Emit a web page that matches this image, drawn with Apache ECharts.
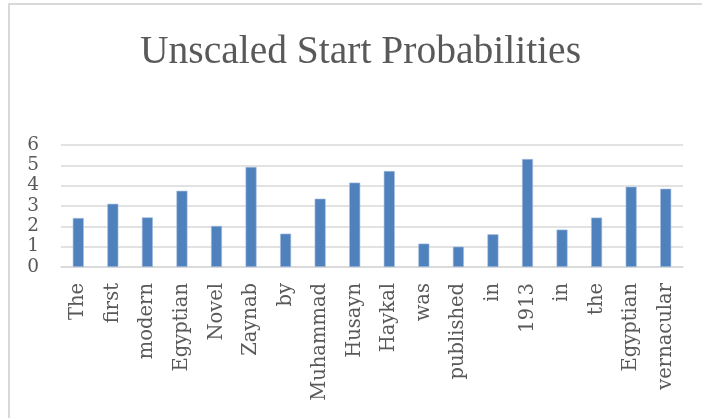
<!DOCTYPE html>
<html>
<head>
<meta charset="utf-8">
<script src="https://cdn.jsdelivr.net/npm/echarts@6/dist/echarts.min.js"></script>
<style>
  html, body { margin: 0; padding: 0; background: #fff; }
  #chart { width: 702px; height: 418px; }
</style>
</head>
<body>
<div id="chart"></div>
<script>
// Words of the sentence and their unscaled start scores
const words = ['The', 'first', 'modern', 'Egyptian', 'Novel', 'Zaynab', 'by', 'Muhammad',
  'Husayn', 'Haykal', 'was', 'published', 'in', '1913', 'in', 'the', 'Egyptian', 'vernacular'];
const startScores = [2.41, 3.11, 2.44, 3.75, 2.02, 4.92, 1.64, 3.36,
  4.15, 4.72, 1.15, 1.0, 1.61, 5.31, 1.84, 2.43, 3.95, 3.85];
const yTicks = [0, 1, 2, 3, 4, 5, 6];

const serif = '"Liberation Serif", "DejaVu Serif", serif';
const wideSerif = '"DejaVu Serif", "Liberation Serif", serif';
const textGrey = '#595959';
const gridGrey = '#d9d9d9';

const chart = echarts.init(document.getElementById('chart'), null, { renderer: 'canvas' });
chart.setOption({
  animation: false,
  backgroundColor: '#ffffff',
  graphic: [{
    type: 'rect',
    shape: { x: 9, y: 4, width: 720, height: 440 },
    style: { fill: 'none', stroke: gridGrey, lineWidth: 2 },
    silent: true
  }],
  title: {
    text: 'Unscaled Start Probabilities',
    left: 135,
    top: 28,
    textStyle: { fontFamily: serif, fontSize: 39.5, fontWeight: 'normal', color: textGrey }
  },
  grid: { left: 61, right: 19, top: 145, bottom: 151, containLabel: false },
  xAxis: {
    type: 'category',
    data: words,
    axisLine: { show: true, lineStyle: { color: gridGrey, width: 1.5 } },
    axisTick: { show: false },
    axisLabel: {
      interval: 0,
      rotate: 90,
      margin: 16,
      fontFamily: wideSerif,
      fontSize: 19.5,
      color: textGrey
    }
  },
  yAxis: {
    type: 'value',
    min: yTicks[0],
    max: yTicks[yTicks.length - 1],
    interval: 1,
    axisLine: { show: false },
    axisTick: { show: false },
    splitLine: { lineStyle: { color: gridGrey, width: 1.5 } },
    axisLabel: {
      margin: 22,
      showMinLabel: true,
      showMaxLabel: true,
      hideOverlap: false,
      fontFamily: wideSerif,
      fontSize: 18.5,
      lineHeight: 14,
      color: textGrey
    }
  },
  series: [{
    type: 'bar',
    data: startScores,
    barWidth: 11,
    itemStyle: { color: '#4f81bd', borderColor: '#a7c0df', borderWidth: 0.6 }
  }]
});
</script>
</body>
</html>
